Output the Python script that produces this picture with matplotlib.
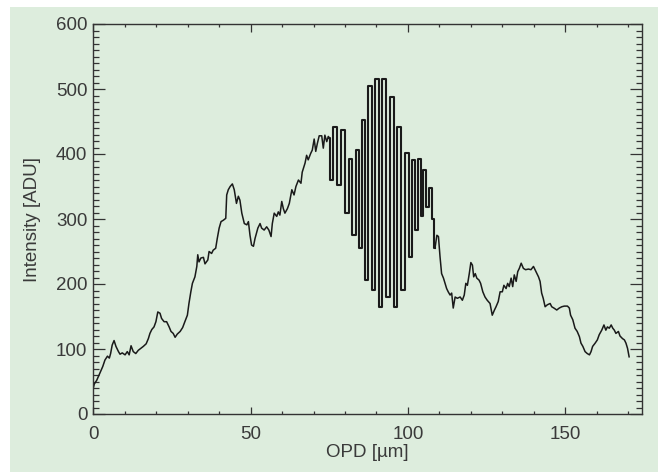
import matplotlib
matplotlib.use("Agg")
import matplotlib.pyplot as plt
from matplotlib.patches import Rectangle
from matplotlib.ticker import MultipleLocator

# === DATA ===
opd_slow = [0.0, 0.3, 1.1, 2.1, 3.0, 3.7, 4.5, 5.1, 5.5, 6.0, 6.6, 7.2, 8.0, 8.5, 9.2,
            10.1, 10.8, 11.4, 12.0, 12.7, 13.5, 14.3, 15.1, 15.9, 16.8, 17.5, 18.0, 18.6,
            19.3, 19.9, 20.5, 21.2, 21.7, 22.5, 23.3, 24.1, 24.7, 25.4, 26.0, 26.7, 27.6,
            28.4, 29.1, 29.9, 30.4, 31.0, 31.5, 32.3, 32.9, 33.2, 33.6, 34.2, 35.0, 35.5,
            36.4, 36.8, 37.6, 38.1, 38.9, 39.4, 40.0, 40.6, 41.3, 42.1, 42.4, 42.9, 43.5,
            44.2, 44.8, 45.5, 46.1, 46.6, 47.2, 48.0, 48.8, 49.3, 49.8, 50.3, 50.9, 51.4,
            52.3, 53.0, 53.5, 54.3, 55.1, 55.8, 56.5, 56.9, 57.5, 58.3, 58.8, 59.3, 59.9,
            60.4, 60.9, 61.7, 62.3, 63.1, 63.8, 64.4, 65.2, 66.0, 66.4, 67.3, 67.8, 68.3,
            69.1, 69.6, 70.2, 70.7, 71.2, 71.8, 72.6, 73.1, 73.6, 74.2, 74.7]
int_slow = [40, 46, 52, 63, 73, 83, 89, 86, 93, 106, 113, 104, 96, 92, 94,
            91, 96, 91, 105, 96, 93, 98, 101, 104, 108, 116, 124, 130,
            134, 142, 157, 155, 147, 142, 142, 134, 127, 124, 118, 123, 127,
            133, 142, 152, 170, 188, 201, 211, 227, 245, 234, 240, 241, 231,
            237, 250, 247, 252, 255, 270, 286, 296, 298, 301, 337, 345, 350,
            354, 345, 324, 335, 329, 309, 293, 291, 296, 275, 260, 258, 270,
            286, 293, 286, 283, 288, 283, 273, 293, 309, 304, 311, 306, 327,
            316, 309, 316, 324, 345, 337, 350, 360, 355, 372, 386, 398, 391,
            401, 406, 423, 404, 416, 428, 428, 409, 429, 419, 427]

# fringe packet: alternating peaks and troughs
opd_fringe = [75.0, 75.6, 76.7, 77.9, 79.4, 80.9, 81.8, 82.9, 83.9, 85.0, 86.0, 86.9,
              88.0, 89.0, 90.2, 91.3, 92.5, 93.7, 94.8, 96.1, 97.2, 98.6, 99.6, 100.8,
              101.7, 102.7, 103.6, 104.4, 105.3, 106.4, 107.2, 108.0, 108.6]
int_fringe = [425, 360, 442, 352, 437, 309, 393, 275, 406, 255, 452, 206,
              505, 191, 516, 165, 516, 180, 488, 165, 442, 191, 401, 242,
              391, 283, 392, 304, 375, 319, 347, 300, 255]

opd_tail = [109.2, 109.7, 110.2, 110.7, 111.3, 111.8, 112.3, 112.8, 113.4, 113.9, 114.4,
            115.0, 115.7, 116.6, 117.3, 117.9, 118.4, 118.9, 119.5, 120.0, 120.5, 120.9,
            121.4, 121.9, 122.6, 123.1, 123.8, 124.5, 125.2, 126.1, 126.8, 127.5, 128.0,
            128.7, 129.3, 130.0, 130.5, 131.2, 131.7, 132.2, 132.8, 133.3, 133.8, 134.4,
            134.9, 135.4, 136.0, 136.7, 137.4, 138.3, 139.1, 139.9, 140.7, 141.5, 142.0,
            142.5, 143.0, 143.6, 144.3, 145.2, 145.7, 146.4, 147.3, 148.1, 148.9, 149.7,
            150.7, 151.3, 151.7, 152.4, 153.1, 153.8, 154.5, 155.0, 155.6, 156.3, 157.0,
            157.7, 158.2, 158.7, 159.5, 160.2, 160.8, 161.6, 162.3, 162.9, 163.4, 164.0,
            164.6, 165.1, 165.6, 166.1, 166.9, 167.4, 168.2, 168.8, 169.3, 169.8, 170.3]
int_tail = [275, 273, 242, 216, 209, 201, 193, 188, 183, 186, 163,
            180, 178, 180, 175, 183, 201, 198, 216, 233, 229, 211,
            216, 209, 206, 201, 188, 180, 175, 170, 152, 160, 165,
            173, 188, 188, 198, 193, 201, 196, 209, 196, 214, 204,
            219, 224, 232, 224, 222, 223, 222, 227, 219, 211, 204,
            186, 178, 165, 168, 170, 165, 163, 160, 163, 165, 166,
            166, 163, 152, 145, 132, 127, 119, 109, 104, 96, 93,
            91, 96, 104, 109, 114, 122, 129, 137, 129, 134, 132,
            137, 132, 129, 124, 127, 120, 116, 114, 109, 101, 88]

# === FIGURE ===
bg = "#ddeddd"
txt = "#3a3a3a"
line_c = "#1a1a1a"
plt.rcParams["font.family"] = ["Liberation Sans", "DejaVu Sans"]

fig = plt.figure(figsize=(6.58, 4.72), dpi=100)
fig.patch.set_facecolor("white")
fig.patches.append(Rectangle((10 / 658, 0), 1 - 10 / 658, 465 / 472,
                             transform=fig.transFigure, facecolor=bg,
                             edgecolor="none", zorder=-10))

ax = fig.add_axes([93.3 / 658, 58 / 472, 548.4 / 658, 390 / 472])
ax.set_zorder(1)
ax.set_facecolor("none")

# slow envelope and tail as a plain line, fringe packet as vertical strokes
ax.plot(opd_slow + opd_fringe[:1], int_slow + int_fringe[:1], color=line_c, lw=1.1)
ax.plot(opd_fringe, int_fringe, color=line_c, lw=1.5, drawstyle="steps-mid")
ax.plot(opd_fringe[-1:] + opd_tail, int_fringe[-1:] + int_tail, color=line_c, lw=1.1)

ax.set_xlim(0, 174.3)
ax.set_ylim(0, 600)
ax.xaxis.set_major_locator(MultipleLocator(50))
ax.xaxis.set_minor_locator(MultipleLocator(10))
ax.yaxis.set_major_locator(MultipleLocator(100))
ax.yaxis.set_minor_locator(MultipleLocator(10))

for s in ax.spines.values():
    s.set_color("#333333")
    s.set_linewidth(1.0)

ax.tick_params(axis="both", which="both", direction="in", top=True, right=True,
               color="#333333", labelcolor=txt, labelsize=13.5)
ax.tick_params(axis="x", which="major", length=5.4, width=0.9, pad=8.5)
ax.tick_params(axis="x", which="minor", length=2.4, width=0.9)
ax.tick_params(axis="y", which="major", length=8.4, width=0.9, pad=4.3)
ax.tick_params(axis="y", which="minor", length=4.3, width=0.9)

ax.set_xlabel("OPD [µm]", fontsize=13.5, color=txt, labelpad=1)
ax.set_ylabel("Intensity [ADU]", fontsize=13.5, color=txt, labelpad=11)

fig.savefig("out.png", dpi=100, facecolor=fig.get_facecolor())
